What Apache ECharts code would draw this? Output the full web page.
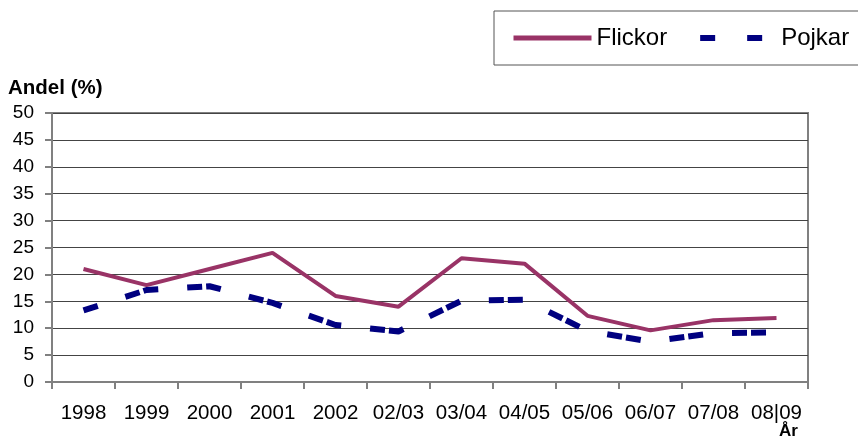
<!DOCTYPE html>
<html>
<head>
<meta charset="utf-8">
<script src="https://cdn.jsdelivr.net/npm/echarts@6/dist/echarts.min.js"></script>
<style>
  html, body { margin: 0; padding: 0; background: #fff; }
  #chart { width: 858px; height: 437px; }
</style>
</head>
<body>
<div id="chart"></div>
<script>
// data
const years = ['1998', '1999', '2000', '2001', '2002', '02/03', '03/04', '04/05', '05/06', '06/07', '07/08', '08|09'];
const flickor = [21, 18, 21, 24, 16, 14, 23, 22, 12.3, 9.6, 11.5, 11.9];
const pojkar = [13.3, 17.1, 17.8, 14.7, 10.6, 9.4, 15.1, 15.3, 9.5, 7.5, 9.1, 9.2];
const yTicks = { min: 0, max: 50, step: 5 };

const font = 'Liberation Sans, Arial, sans-serif';

const chart = echarts.init(document.getElementById('chart'));
chart.setOption({
  animation: false,
  title: [
    {
      text: 'Andel (%)',
      left: 8, top: 78,
      padding: 0,
      textStyle: { fontFamily: font, fontSize: 20.5, fontWeight: 'bold', color: '#000' }
    },
    {
      text: 'År',
      left: 779, top: 423,
      padding: 0,
      textStyle: { fontFamily: font, fontSize: 17, fontWeight: 'bold', color: '#000' }
    }
  ],
  legend: {
    orient: 'horizontal',
    left: 494, top: 11,
    width: 420,
    padding: [15, 30, 15, 17],
    borderColor: '#555',
    borderWidth: 1,
    itemWidth: 78,
    itemHeight: 22,
    itemGap: 22,
    itemStyle: { opacity: 0 },
    textStyle: { fontFamily: font, fontSize: 24, color: '#000' },
    data: [
      { name: 'Flickor', lineStyle: { width: 5 } },
      {
        name: 'Pojkar',
        lineStyle: { width: 6, type: [15, 32], dashOffset: 39, cap: 'butt' },
        textStyle: { padding: [0, 0, 0, 6] }
      }
    ]
  },
  grid: { left: 52, right: 50, top: 113, bottom: 55, show: true, borderColor: '#808080', borderWidth: 2 },
  xAxis: {
    type: 'category',
    data: years,
    boundaryGap: true,
    axisLine: { lineStyle: { color: '#808080', width: 2 } },
    axisTick: { show: true, length: 7, inside: false, lineStyle: { color: '#808080', width: 2 } },
    axisLabel: { interval: 0, margin: 21, fontFamily: font, fontSize: 20.5, color: '#000' }
  },
  yAxis: {
    type: 'value',
    min: yTicks.min, max: yTicks.max, interval: yTicks.step,
    axisLine: { show: true, lineStyle: { color: '#808080', width: 2 } },
    axisTick: { show: true, length: 7, lineStyle: { color: '#808080', width: 2 } },
    axisLabel: { margin: 18, fontFamily: font, fontSize: 19, color: '#000' },
    splitLine: { lineStyle: { color: '#444', width: 1 } }
  },
  series: [
    {
      name: 'Flickor',
      type: 'line',
      data: flickor,
      symbol: 'none',
      color: '#993366',
      lineStyle: { color: '#993366', width: 4 }
    },
    {
      name: 'Pojkar',
      type: 'line',
      data: pojkar,
      symbol: 'none',
      color: '#000080',
      lineStyle: { color: '#000080', width: 6, type: [15, 29, 15, 4], cap: 'butt' }
    }
  ]
});
</script>
</body>
</html>
